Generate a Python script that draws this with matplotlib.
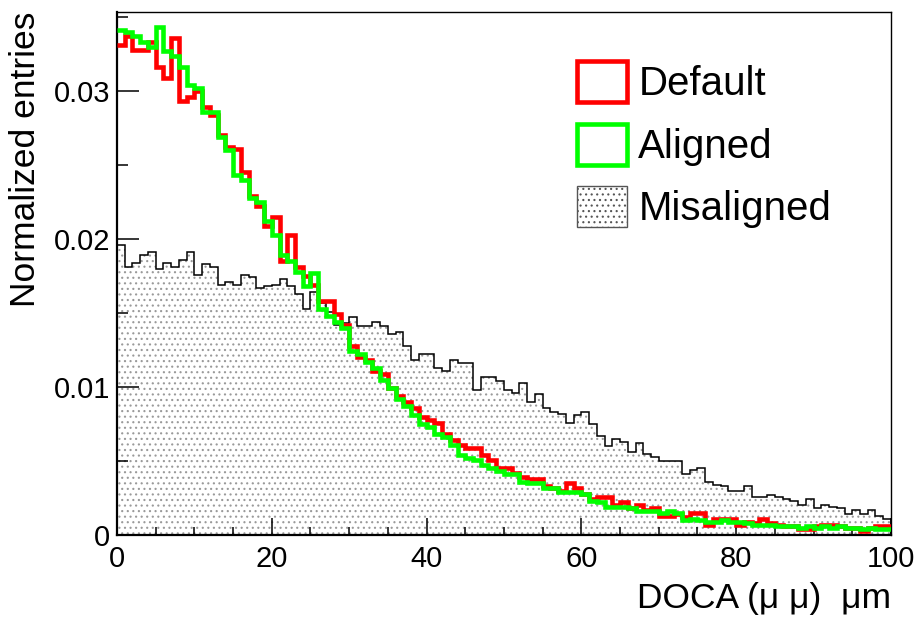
"""
DOCA(mu mu) distributions for default / aligned / misaligned geometry.
ROOT-style step histograms redrawn with matplotlib.
"""

import numpy as np
import matplotlib
matplotlib.use("Agg")
import matplotlib.pyplot as plt
from matplotlib.patches import Patch
from matplotlib.ticker import MultipleLocator, FixedLocator, FixedFormatter

# ================================================================
# DATA (normalized entries per 1 um bin)
# ================================================================

bin_edges = np.arange(0, 101, 1)

default = [
    0.0331, 0.0337, 0.0328, 0.0328, 0.0333, 0.0316, 0.0309, 0.0336, 0.0293, 0.0296,
    0.0300, 0.0289, 0.0284, 0.0270, 0.0262, 0.0261, 0.0245, 0.0229, 0.0222, 0.0209,
    0.0215, 0.0185, 0.0203, 0.0181, 0.0175, 0.0169, 0.0158, 0.0158, 0.0149, 0.0142,
    0.0128, 0.0120, 0.0118, 0.0111, 0.0109, 0.0099, 0.0094, 0.0090, 0.0086, 0.0080,
    0.0078, 0.0076, 0.0068, 0.0064, 0.0061, 0.0059, 0.0059, 0.0054, 0.0051, 0.0045,
    0.0045, 0.0042, 0.0039, 0.0038, 0.0038, 0.0033, 0.0032, 0.0030, 0.0035, 0.0032,
    0.0028, 0.0024, 0.0026, 0.0026, 0.0020, 0.0022, 0.0018, 0.0020, 0.0017, 0.0018,
    0.0013, 0.0013, 0.0014, 0.0012, 0.0015, 0.0015, 0.0007, 0.0011, 0.0011, 0.0011,
    0.0007, 0.0009, 0.0008, 0.0011, 0.0008, 0.0007, 0.0006, 0.0006, 0.0004, 0.0004,
    0.0006, 0.0007, 0.0007, 0.0006, 0.0005, 0.0005, 0.0003, 0.0005, 0.0006, 0.0006,
]

aligned = [
    0.0341, 0.0340, 0.0337, 0.0333, 0.0330, 0.0343, 0.0327, 0.0324, 0.0316, 0.0304,
    0.0302, 0.0286, 0.0286, 0.0269, 0.0260, 0.0243, 0.0240, 0.0228, 0.0225, 0.0212,
    0.0203, 0.0189, 0.0185, 0.0178, 0.0168, 0.0177, 0.0153, 0.0148, 0.0144, 0.0140,
    0.0124, 0.0122, 0.0117, 0.0113, 0.0105, 0.0099, 0.0092, 0.0087, 0.0081, 0.0075,
    0.0073, 0.0068, 0.0066, 0.0061, 0.0054, 0.0052, 0.0051, 0.0047, 0.0045, 0.0043,
    0.0041, 0.0041, 0.0036, 0.0035, 0.0035, 0.0032, 0.0032, 0.0029, 0.0029, 0.0029,
    0.0028, 0.0023, 0.0022, 0.0019, 0.0019, 0.0019, 0.0018, 0.0016, 0.0016, 0.0016,
    0.0015, 0.0016, 0.0015, 0.0010, 0.0011, 0.0010, 0.0009, 0.0009, 0.0010, 0.0009,
    0.0009, 0.0008, 0.0007, 0.0007, 0.0007, 0.0006, 0.0006, 0.0006, 0.0005, 0.0006,
    0.0005, 0.0006, 0.0005, 0.0006, 0.0005, 0.0005, 0.0004, 0.0005, 0.0004, 0.0004,
]

misaligned = [
    0.0196, 0.0181, 0.0184, 0.0189, 0.0191, 0.0180, 0.0184, 0.0181, 0.0186, 0.0191,
    0.0176, 0.0183, 0.0181, 0.0169, 0.0171, 0.0169, 0.0176, 0.0174, 0.0167, 0.0168,
    0.0169, 0.0173, 0.0168, 0.0163, 0.0153, 0.0164, 0.0157, 0.0151, 0.0142, 0.0143,
    0.0147, 0.0141, 0.0141, 0.0144, 0.0141, 0.0136, 0.0137, 0.0128, 0.0118, 0.0122,
    0.0122, 0.0113, 0.0111, 0.0118, 0.0116, 0.0116, 0.0098, 0.0107, 0.0107, 0.0104,
    0.0098, 0.0096, 0.0103, 0.0090, 0.0095, 0.0086, 0.0083, 0.0082, 0.0076, 0.0081,
    0.0083, 0.0075, 0.0067, 0.0060, 0.0065, 0.0063, 0.0056, 0.0062, 0.0055, 0.0053,
    0.0050, 0.0050, 0.0050, 0.0041, 0.0044, 0.0045, 0.0036, 0.0034, 0.0033, 0.0030,
    0.0030, 0.0033, 0.0026, 0.0026, 0.0027, 0.0026, 0.0024, 0.0023, 0.0020, 0.0024,
    0.0018, 0.0020, 0.0019, 0.0018, 0.0014, 0.0017, 0.0014, 0.0017, 0.0013, 0.0011,
]

labels = ["Default", "Aligned", "Misaligned"]
y_ticks = [0, 0.01, 0.02, 0.03]
y_tick_labels = ["0", "0.01", "0.02", "0.03"]
x_ticks = [0, 20, 40, 60, 80, 100]
x_tick_labels = ["0", "20", "40", "60", "80", "100"]


# ================================================================
# PLOT
# ================================================================

def main():
    plt.rcParams["font.family"] = ["Liberation Sans", "DejaVu Sans"]
    plt.rcParams["hatch.linewidth"] = 0.8

    fig = plt.figure(figsize=(9.21, 6.22), dpi=100)
    ax = fig.add_axes([0.127, 0.1399, 0.8404, 0.8408])

    # misaligned: dotted fill + thin black outline
    ax.stairs(misaligned, bin_edges, fill=True, facecolor="white",
              edgecolor="#9a9a9a", linewidth=0, hatch="...", zorder=1)
    ax.stairs(misaligned, bin_edges, fill=False, edgecolor="black",
              linewidth=1.1, zorder=2)

    ax.stairs(default, bin_edges, baseline=None, color="#ff0000",
              linewidth=3.3, zorder=3)
    ax.stairs(aligned, bin_edges, baseline=None, color="#00ff00",
              linewidth=3.3, zorder=4)

    ax.set_xlim(0, 100)
    ax.set_ylim(0, 0.03534)

    ax.xaxis.set_major_locator(FixedLocator(x_ticks))
    ax.xaxis.set_major_formatter(FixedFormatter(x_tick_labels))
    ax.xaxis.set_minor_locator(MultipleLocator(5))
    ax.yaxis.set_major_locator(FixedLocator(y_ticks))
    ax.yaxis.set_major_formatter(FixedFormatter(y_tick_labels))
    ax.yaxis.set_minor_locator(MultipleLocator(0.005))

    ax.tick_params(axis="both", which="both", direction="in",
                   top=False, right=False, labelsize=21, width=1.1)
    ax.tick_params(axis="x", which="major", length=12, pad=7)
    ax.tick_params(axis="x", which="minor", length=6)
    ax.tick_params(axis="y", which="major", length=16, pad=5)
    ax.tick_params(axis="y", which="minor", length=8)

    for side in ["left", "bottom"]:
        ax.spines[side].set_linewidth(1.6)
    for side in ["top", "right"]:
        ax.spines[side].set_linewidth(1.0)

    ax.set_xlabel("DOCA (\u03bc \u03bc)  \u03bcm", fontsize=25.5, loc="right",
                  labelpad=7)
    ax.set_ylabel("Normalized entries", fontsize=25.5, loc="top", labelpad=8)

    handles = [
        Patch(facecolor="white", edgecolor="#ff0000", linewidth=3.3),
        Patch(facecolor="white", edgecolor="#00ff00", linewidth=3.3),
        Patch(facecolor="white", edgecolor="#555555", linewidth=1.0,
              hatch="..."),
    ]
    ax.legend(handles, labels, loc="upper left", bbox_to_anchor=(0.594, 0.906),
              frameon=False, fontsize=29, borderpad=0, borderaxespad=0,
              handlelength=1.25, handleheight=1.2, handletextpad=0.28,
              labelspacing=0.5)

    fig.savefig("out.png", dpi=100)
    plt.close(fig)


if __name__ == "__main__":
    main()
